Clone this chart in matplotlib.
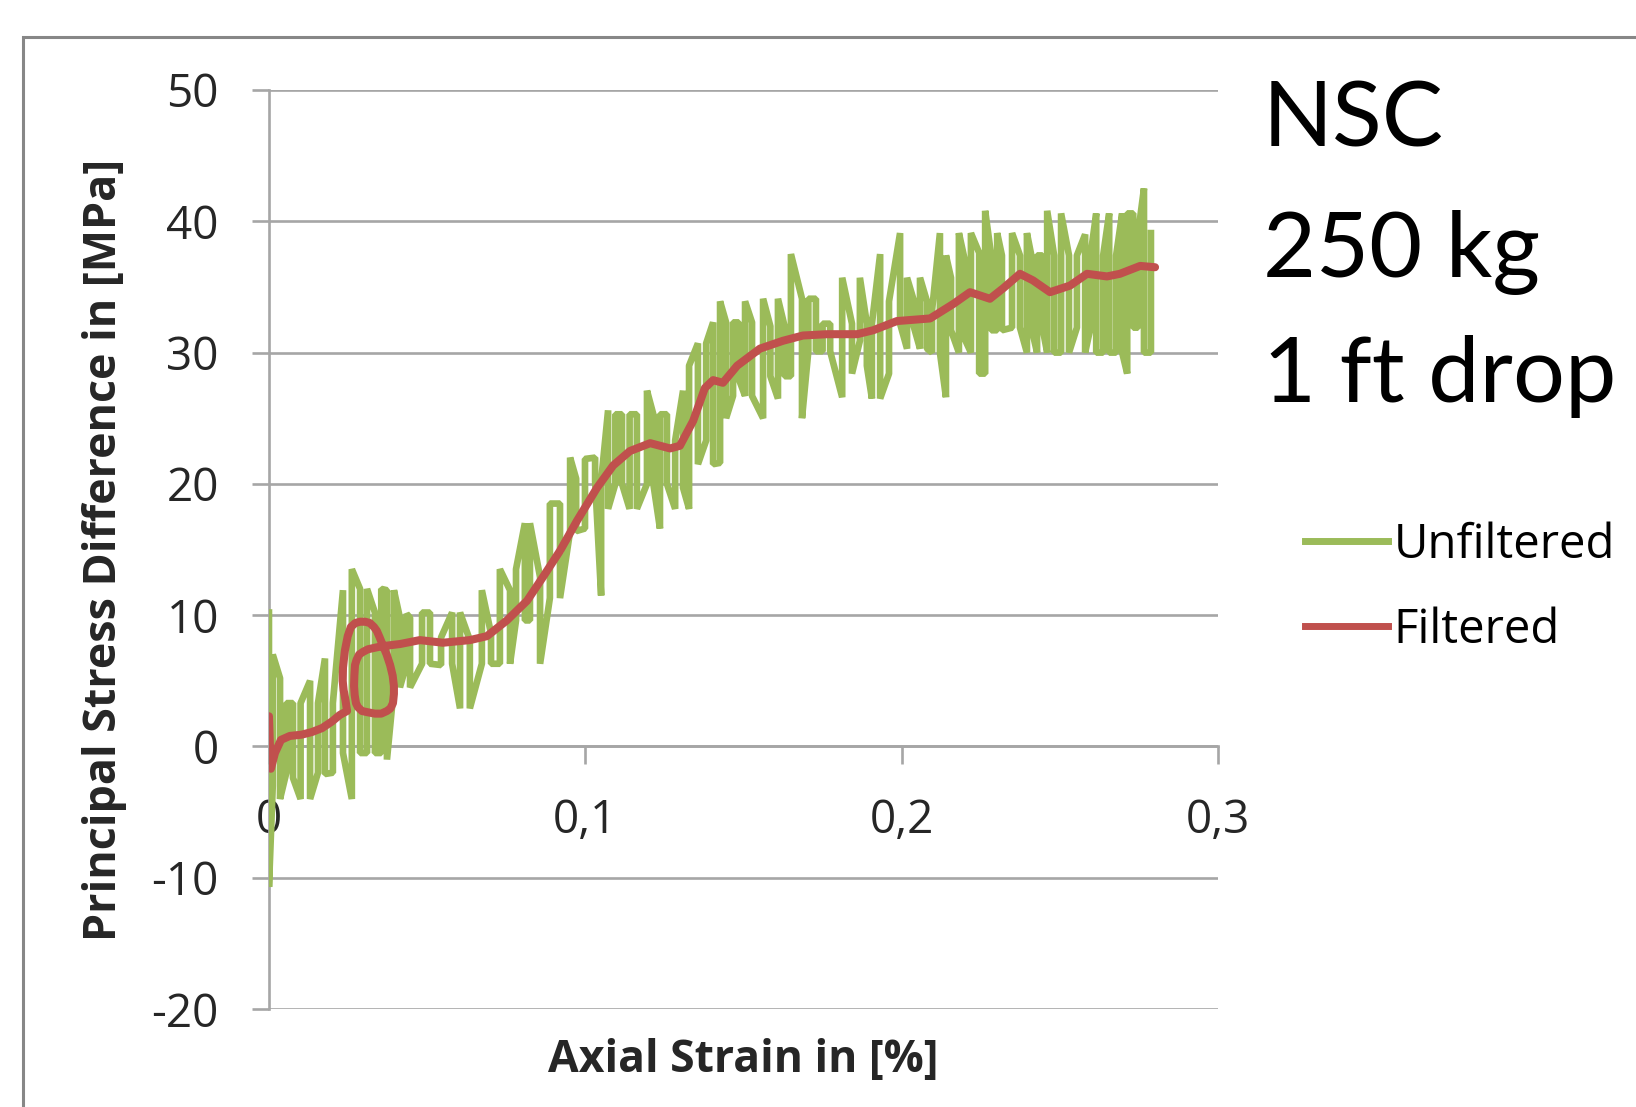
import matplotlib.pyplot as plt
from matplotlib.lines import Line2D
from matplotlib.patches import Rectangle

plt.rcParams['font.family'] = ['Open Sans', 'DejaVu Sans']

# unfiltered trace, read column by column: strain [%], upper and lower peak [MPa]
raw_strain = [0.0000, 0.0012, 0.0035, 0.0055, 0.0076, 0.0100, 0.0130, 0.0155, 0.0177, 0.0202,
              0.0234, 0.0262, 0.0288, 0.0310, 0.0335, 0.0355, 0.0373, 0.0395, 0.0414, 0.0435,
              0.0446, 0.0484, 0.0509, 0.0544, 0.0579, 0.0604, 0.0635, 0.0673, 0.0702, 0.0730,
              0.0762, 0.0781, 0.0809, 0.0825, 0.0857, 0.0888, 0.0920, 0.0952, 0.0971, 0.0999,
              0.1031, 0.1050, 0.1072, 0.1095, 0.1116, 0.1140, 0.1163, 0.1195, 0.1215, 0.1236,
              0.1258, 0.1284, 0.1309, 0.1328, 0.1356, 0.1382, 0.1404, 0.1426, 0.1445, 0.1467,
              0.1485, 0.1505, 0.1527, 0.1562, 0.1585, 0.1609, 0.1630, 0.1650, 0.1685, 0.1705,
              0.1729, 0.1750, 0.1774, 0.1812, 0.1843, 0.1868, 0.1890, 0.1906, 0.1932, 0.1960,
              0.1995, 0.2017, 0.2038, 0.2058, 0.2080, 0.2096, 0.2121, 0.2140, 0.2156, 0.2181,
              0.2200, 0.2219, 0.2245, 0.2264, 0.2283, 0.2302, 0.2317, 0.2349, 0.2374, 0.2396,
              0.2410, 0.2428, 0.2445, 0.2460, 0.2482, 0.2504, 0.2529, 0.2554, 0.2580, 0.2597,
              0.2615, 0.2637, 0.2656, 0.2678, 0.2697, 0.2713, 0.2732, 0.2747, 0.2766, 0.2788]
raw_high = [10.2, 7.0, 5.2, 3.3, 3.3, 3.3, 5.0, 3.3, 6.7, 3.3,
            11.9, 13.5, 12.0, 12.0, 10.2, 12.0, 11.9, 11.9, 9.8, 10.1,
            9.8, 10.2, 10.2, 8.3, 10.2, 10.2, 8.1, 11.9, 8.6, 13.5,
            11.9, 13.5, 17.0, 17.0, 12.9, 18.5, 18.5, 22.0, 20.4, 21.9,
            22.0, 20.2, 25.6, 25.3, 25.3, 25.3, 25.3, 27.1, 25.3, 25.3,
            25.3, 23.3, 27.1, 29.0, 30.7, 30.7, 32.3, 33.9, 32.3, 32.3,
            32.3, 33.9, 32.3, 34.1, 32.0, 34.1, 32.0, 37.5, 34.1, 34.1,
            34.1, 32.2, 32.2, 35.7, 32.2, 35.7, 32.2, 32.2, 37.5, 33.9,
            39.1, 35.7, 34.0, 35.7, 33.9, 33.2, 39.1, 37.4, 35.7, 39.1,
            37.0, 39.1, 37.6, 40.8, 37.4, 39.1, 37.4, 39.1, 37.4, 39.1,
            37.4, 37.4, 37.4, 40.8, 37.4, 40.6, 37.4, 37.4, 39.0, 37.4,
            40.6, 37.4, 40.6, 37.4, 40.6, 40.6, 40.6, 39.0, 42.5, 39.1]
raw_low = [-10.7, -3.0, -4.0, -2.0, -2.4, -4.0, -4.0, -2.0, -2.1, -2.0,
           -0.5, -4.0, -0.5, -0.5, -0.5, -0.5, -1.0, 4.5, 4.5, 6.3,
           4.5, 6.3, 6.3, 6.2, 6.3, 2.9, 2.9, 6.3, 6.3, 6.3,
           6.3, 9.6, 9.6, 9.6, 6.3, 11.3, 11.3, 16.4, 16.4, 16.6,
           20.2, 11.5, 18.1, 20.0, 20.0, 18.1, 18.1, 20.0, 20.0, 16.6,
           20.0, 18.1, 19.7, 18.1, 21.5, 23.3, 21.5, 21.6, 25.0, 26.7,
           28.0, 26.7, 26.7, 25.0, 28.2, 26.5, 28.2, 28.2, 25.0, 30.1,
           30.1, 30.1, 30.1, 26.6, 28.4, 30.9, 29.0, 26.5, 26.5, 28.4,
           32.2, 30.3, 32.0, 30.3, 30.3, 30.0, 30.0, 26.6, 31.7, 30.0,
           31.0, 30.0, 28.4, 28.4, 31.7, 31.7, 31.7, 31.9, 31.9, 30.0,
           31.9, 30.0, 31.9, 30.0, 30.0, 30.0, 30.0, 31.9, 30.0, 31.9,
           30.0, 30.0, 30.0, 30.0, 30.0, 28.4, 31.9, 31.9, 30.0, 30.0]

# filtered trace (it loops back on itself near 0.03 %)
filt_strain = [0.0000, 0.0003, 0.0006, 0.0019, 0.0038, 0.0066, 0.0104, 0.0136, 0.0168, 0.0199,
               0.0224, 0.0247, 0.0242, 0.0236, 0.0233, 0.0234, 0.0240, 0.0249, 0.0259, 0.0273,
               0.0288, 0.0304, 0.0319, 0.0332, 0.0341, 0.0350, 0.0360, 0.0372, 0.0383, 0.0391,
               0.0395, 0.0395, 0.0392, 0.0384, 0.0373, 0.0355, 0.0335, 0.0313, 0.0294, 0.0281,
               0.0275, 0.0271, 0.0269, 0.0270, 0.0272, 0.0277, 0.0285, 0.0297, 0.0313, 0.0331,
               0.0351, 0.0380, 0.0414, 0.0477, 0.0550, 0.0635, 0.0689, 0.0752, 0.0816,
               0.0866, 0.0920, 0.0974, 0.1037, 0.1088, 0.1141, 0.1205, 0.1268, 0.1299, 0.1341,
               0.1378, 0.1404, 0.1435, 0.1480, 0.1552, 0.1625, 0.1688, 0.1764, 0.1859, 0.1910,
               0.1985, 0.2090, 0.2163, 0.2216, 0.2279, 0.2321, 0.2374, 0.2415, 0.2469, 0.2532,
               0.2586, 0.2649, 0.2690, 0.2754, 0.2801]
filt_stress = [2.3, 0.1, -1.7, -0.5, 0.5, 0.8, 0.9, 1.1, 1.4, 1.9,
               2.4, 2.7, 3.5, 4.3, 5.0, 6.0, 7.3, 8.4, 9.1, 9.4,
               9.5, 9.5, 9.4, 9.1, 8.8, 8.3, 7.7, 7.0, 6.2, 5.4,
               4.6, 4.0, 3.3, 2.9, 2.7, 2.5, 2.5, 2.6, 2.7, 3.0,
               3.3, 3.9, 4.6, 5.4, 6.2, 6.6, 7.0, 7.2, 7.4, 7.5,
               7.6, 7.7, 7.8, 8.1, 7.9, 8.1, 8.4, 9.6, 11.1,
               12.9, 14.9, 17.2, 19.7, 21.4, 22.5, 23.1, 22.7, 22.9, 24.8,
               27.3, 27.9, 27.7, 29.0, 30.3, 30.9, 31.3, 31.4, 31.4, 31.7,
               32.4, 32.6, 33.7, 34.6, 34.1, 34.9, 36.0, 35.5, 34.6, 35.1,
               36.0, 35.8, 36.0, 36.6, 36.5]

x_ticks = [0, 0.1, 0.2, 0.3]
x_labels = ['0', '0,1', '0,2', '0,3']
y_ticks = [-20, -10, 0, 10, 20, 30, 40, 50]
y_labels = ['-20', '-10', '0', '10', '20', '30', '40', '50']

green = '#9bbb59'
red = '#c0504d'
grey = '#a6a6a6'

# walk up and down each column so the raw trace looks like the stepped signal
xs, ys = [], []
for i, (s, hi, lo) in enumerate(zip(raw_strain, raw_high, raw_low)):
    xs += [s, s]
    ys += [hi, lo] if i % 2 == 0 else [lo, hi]

fig = plt.figure(figsize=(16.36, 11.07), dpi=100)
fig.add_artist(Rectangle((0.0141, -0.2), 1.2, 1.1666, transform=fig.transFigure,
                         fill=False, edgecolor='#878787', lw=2.2))

ax = fig.add_axes([0.1644, 0.0885, 0.5801, 0.8302])
ax.plot(xs, ys, color=green, lw=4.8, solid_joinstyle='bevel', zorder=3)
ax.plot(filt_strain, filt_stress, color=red, lw=5.8, solid_joinstyle='round',
        solid_capstyle='round', zorder=4)

ax.set_xlim(0, 0.3)
ax.set_ylim(-20, 50)
ax.set_xticks(x_ticks)
ax.set_xticklabels(x_labels)
ax.set_yticks(y_ticks)
ax.set_yticklabels(y_labels)
ax.yaxis.grid(True, color=grey, lw=1.9)
ax.set_axisbelow(True)

for side in ['top', 'right']:
    ax.spines[side].set_visible(False)
ax.spines['bottom'].set_position(('data', 0))
for side in ['left', 'bottom']:
    ax.spines[side].set_color(grey)
    ax.spines[side].set_linewidth(1.9)

ax.tick_params(axis='x', direction='out', length=13, width=1.9, color=grey,
               pad=24, labelsize=33, labelcolor='#262626')
ax.tick_params(axis='y', direction='out', length=12, width=1.9, color=grey,
               pad=24, labelsize=33, labelcolor='#262626')

fig.text(0.4545, 0.032, 'Axial Strain in [%]', ha='center', va='baseline',
         fontsize=32, fontweight='bold', color='#262626')
fig.text(0.064, 0.503, 'Principal Stress Difference in [MPa]', ha='center', va='center',
         rotation=90, fontsize=32.3, fontweight='bold', color='#262626')

for txt, y in [('NSC', 0.868), ('250 kg', 0.750), ('1 ft drop', 0.637)]:
    fig.text(0.772, y, txt, ha='left', va='baseline', fontsize=66,
             family=['Lato', 'DejaVu Sans'], color='black')

handles = [Line2D([], [], color=green, lw=5), Line2D([], [], color=red, lw=5)]
ax.legend(handles, ['Unfiltered', 'Filtered'], loc='upper left',
          bbox_to_anchor=(1305 / 1636, 1 - 521 / 1107), bbox_transform=fig.transFigure,
          frameon=False, fontsize=34, handlelength=1.75, handletextpad=0.12,
          labelspacing=0.8, borderpad=0, borderaxespad=0)

fig.savefig('out.png', dpi=100)
